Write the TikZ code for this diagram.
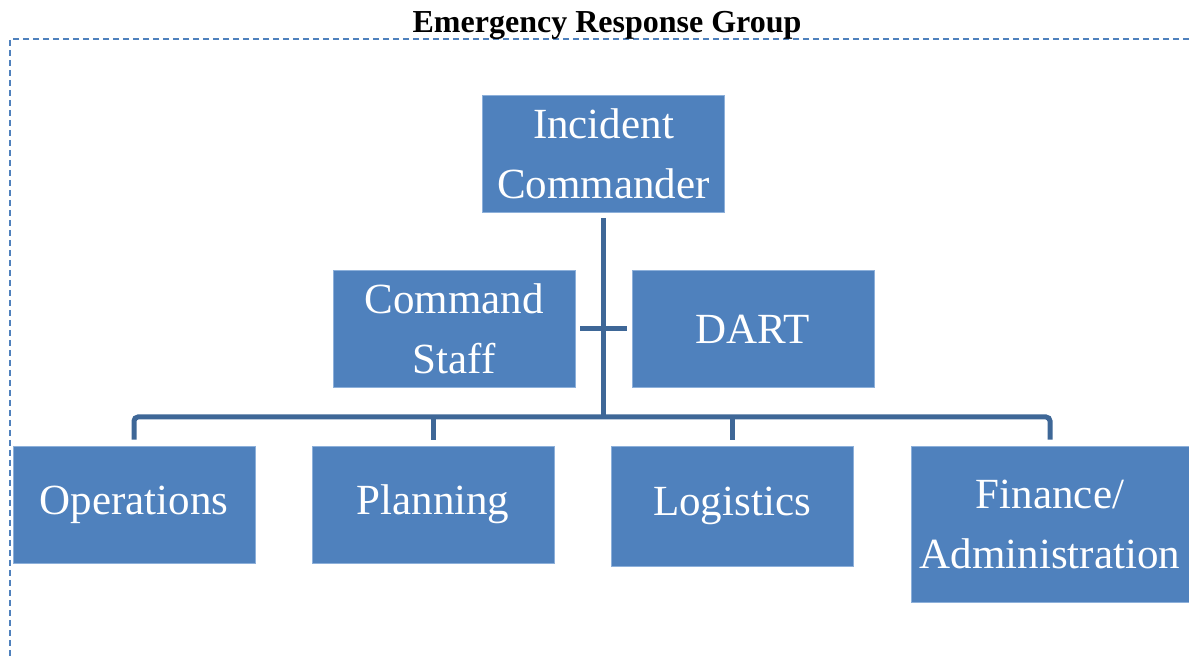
\documentclass[tikz,border=0pt]{standalone}
\usepackage{fontspec}
\setmainfont{Liberation Serif}
\definecolor{boxblue}{HTML}{4F81BD}
\definecolor{linkblue}{HTML}{3E6797}
\definecolor{edgeblue}{HTML}{8DB0DA}
\tikzset{
    unit/.style = {rectangle, fill=boxblue, draw=edgeblue, line width=0.3pt,
                   text=white, align=center, inner sep=0pt,
                   minimum width=121pt, minimum height=58.5pt,
                   font=\fontsize{21.5}{30}\selectfont},
    link/.style = {draw=linkblue, line width=2.5pt},
    frame/.style = {draw=boxblue, line width=1pt, dash pattern=on 3pt off 2pt}
}
\begin{document}
\begin{tikzpicture}[x=0.5pt,y=-0.5pt]
    \useasboundingbox (0,0) rectangle (1189,656);

    % group frame and its heading
    \draw[frame] (1189,39) -- (10,39) -- (10,656);
    \node[anchor=base, font=\fontsize{16}{19}\selectfont\bfseries] (title) at (607,33) {Emergency Response Group};

    % command level
    \node[unit] (ic)   at (603.5,153.5) {Incident\\Commander};
    \node[unit] (cs)   at (454,329)     {Command\\Staff};
    \node[unit] (dart) at (753,329)     {DART};

    % sections
    \node[unit] (ops) at (134,504.5) {Operations};
    \node[unit] (pln) at (433,504.5) {Planning};
    \node[unit, minimum height=60pt] (log) at (732,506) {Logistics};
    \node[unit, minimum width=139pt, minimum height=78pt] (fin) at (1050,524) {Finance/\\Administration};

    \coordinate (bus) at (603.5,417);

    % trunk, staff bar and the bus to the sections
    \draw[link, shorten <=3pt] (ic.south) -- (bus);
    \draw[link, shorten <=2.5pt, shorten >=2.5pt] (cs.east) -- (dart.west);
    \draw[link, rounded corners=2, shorten <=3pt, shorten >=3pt]
        (ops.north) -- (ops.north |- bus) -- (fin.north |- bus) -- (fin.north);
    \foreach \s in {pln,log}
    {
        \draw[link, shorten >=3pt] (\s.north |- bus) -- (\s.north);
    }
\end{tikzpicture}
\end{document}
